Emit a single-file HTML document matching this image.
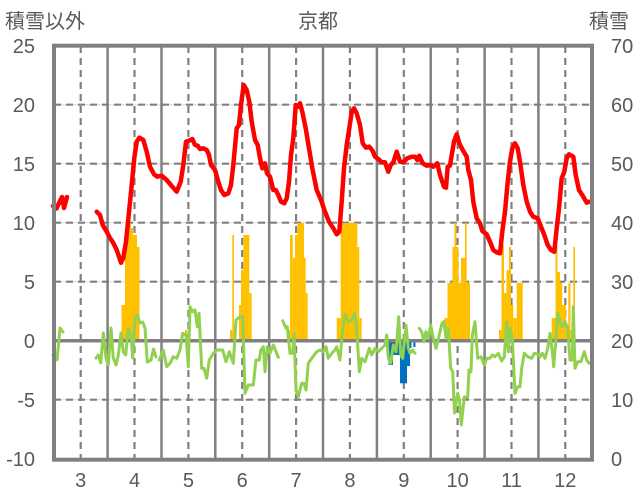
<!DOCTYPE html>
<html><head><meta charset="utf-8"><style>
html,body{margin:0;padding:0;background:#fff;}
svg{display:block;}
text{font-family:"Liberation Sans","Noto Sans CJK JP",sans-serif;fill:#595959;}
</style></head><body>
<svg width="636" height="501" viewBox="0 0 636 501" xmlns="http://www.w3.org/2000/svg">
<rect width="636" height="501" fill="#fff"/>
<g stroke="#D9D9D9" stroke-width="1">
<line x1="54" y1="104.7" x2="592" y2="104.7"/>
<line x1="54" y1="163.7" x2="592" y2="163.7"/>
<line x1="54" y1="222.7" x2="592" y2="222.7"/>
<line x1="54" y1="281.7" x2="592" y2="281.7"/>
<line x1="54" y1="399.7" x2="592" y2="399.7"/>
</g>
<g stroke="#808080" stroke-width="2.2" stroke-dasharray="7 5">
<line x1="54" y1="104.7" x2="592" y2="104.7"/>
<line x1="54" y1="163.7" x2="592" y2="163.7"/>
<line x1="54" y1="222.7" x2="592" y2="222.7"/>
<line x1="54" y1="281.7" x2="592" y2="281.7"/>
<line x1="54" y1="399.7" x2="592" y2="399.7"/>
<line x1="80.7" y1="46" x2="80.7" y2="459"/>
<line x1="134.5" y1="46" x2="134.5" y2="459"/>
<line x1="188.4" y1="46" x2="188.4" y2="459"/>
<line x1="242.2" y1="46" x2="242.2" y2="459"/>
<line x1="296.1" y1="46" x2="296.1" y2="459"/>
<line x1="349.9" y1="46" x2="349.9" y2="459"/>
<line x1="403.8" y1="46" x2="403.8" y2="459"/>
<line x1="457.6" y1="46" x2="457.6" y2="459"/>
<line x1="511.5" y1="46" x2="511.5" y2="459"/>
<line x1="565.3" y1="46" x2="565.3" y2="459"/>
</g>
<g stroke="#808080" stroke-width="2.5">
<line x1="107.6" y1="46" x2="107.6" y2="459"/>
<line x1="161.5" y1="46" x2="161.5" y2="459"/>
<line x1="215.3" y1="46" x2="215.3" y2="459"/>
<line x1="269.2" y1="46" x2="269.2" y2="459"/>
<line x1="323" y1="46" x2="323" y2="459"/>
<line x1="376.9" y1="46" x2="376.9" y2="459"/>
<line x1="430.7" y1="46" x2="430.7" y2="459"/>
<line x1="484.6" y1="46" x2="484.6" y2="459"/>
<line x1="538.4" y1="46" x2="538.4" y2="459"/>
</g>
<g fill="#FFC000">
<rect x="121.5" y="305" width="3.5" height="35.7"/>
<rect x="125" y="235" width="4" height="105.7"/>
<rect x="129" y="223" width="2" height="117.7"/>
<rect x="131" y="228" width="2" height="112.7"/>
<rect x="133" y="235" width="4" height="105.7"/>
<rect x="137" y="247" width="2.5" height="93.7"/>
<rect x="185" y="330" width="2.3" height="10.7"/>
<rect x="230" y="330" width="2.3" height="10.7"/>
<rect x="232.3" y="235" width="1.7" height="105.7"/>
<rect x="239" y="305" width="2" height="35.7"/>
<rect x="241" y="270" width="2.3" height="70.7"/>
<rect x="243.3" y="235" width="6" height="105.7"/>
<rect x="249.3" y="293" width="2.4" height="47.7"/>
<rect x="286.7" y="330" width="3.3" height="10.7"/>
<rect x="290" y="235" width="2.7" height="105.7"/>
<rect x="292.7" y="258" width="2.3" height="82.7"/>
<rect x="295" y="235" width="2.3" height="105.7"/>
<rect x="297.3" y="223" width="6.7" height="117.7"/>
<rect x="304" y="258" width="1.7" height="82.7"/>
<rect x="305.7" y="293" width="2" height="47.7"/>
<rect x="336.7" y="318" width="4" height="22.7"/>
<rect x="340.7" y="223" width="16.6" height="117.7"/>
<rect x="357.3" y="247" width="2" height="93.7"/>
<rect x="359.3" y="318" width="2.4" height="22.7"/>
<rect x="444.5" y="318" width="3" height="22.7"/>
<rect x="447.5" y="283" width="5" height="57.7"/>
<rect x="452.5" y="247" width="2" height="93.7"/>
<rect x="454.5" y="223" width="2" height="117.7"/>
<rect x="456.5" y="247" width="2" height="93.7"/>
<rect x="458.5" y="283" width="2.5" height="57.7"/>
<rect x="461" y="258" width="4" height="82.7"/>
<rect x="465" y="223" width="1.7" height="117.7"/>
<rect x="466.7" y="283" width="3.3" height="57.7"/>
<rect x="499" y="330" width="2.5" height="10.7"/>
<rect x="501.5" y="245" width="2.5" height="95.7"/>
<rect x="504" y="293" width="2.5" height="47.7"/>
<rect x="506.5" y="270" width="2.5" height="70.7"/>
<rect x="509" y="247" width="2" height="93.7"/>
<rect x="511" y="305" width="2.3" height="35.7"/>
<rect x="513.3" y="318" width="3.4" height="22.7"/>
<rect x="516.7" y="283" width="6" height="57.7"/>
<rect x="551.7" y="318" width="3.8" height="22.7"/>
<rect x="555.5" y="247" width="2" height="93.7"/>
<rect x="557.5" y="272" width="2.5" height="68.7"/>
<rect x="560" y="283" width="2.3" height="57.7"/>
<rect x="562.3" y="305" width="3.7" height="35.7"/>
<rect x="566" y="330" width="2.3" height="10.7"/>
<rect x="568.3" y="283" width="2.2" height="57.7"/>
<rect x="570.5" y="330" width="2.5" height="10.7"/>
<rect x="573.3" y="247" width="1.7" height="93.7"/>
</g>
<g fill="#0070C0">
<rect x="388.5" y="340.7" width="4.5" height="24.3"/>
<rect x="393" y="340.7" width="7" height="14.3"/>
<rect x="400" y="340.7" width="7" height="42.6"/>
<rect x="407" y="340.7" width="3" height="25.3"/>
<rect x="410" y="340.7" width="1.5" height="7.3"/>
<rect x="413.3" y="340.7" width="2.2" height="6.3"/>
</g>
<line x1="54" y1="340.7" x2="592" y2="340.7" stroke="#808080" stroke-width="3.5"/>
<g fill="none" stroke="#92D050" stroke-width="3" stroke-linejoin="round" stroke-linecap="round">
<polyline points="53,355 57,360 60,328 63,332"/>
<polyline points="96,358 98.3,355 100.7,363 103.3,333 106,358 108.3,365 111,328 113.3,358 116,365 118.3,355 121,333 123.3,352 125.7,355 128.3,328 131,335 132.7,358 135,318 137.3,315 140,323 142.7,322 145,328 147.3,362 151,360 153.5,349 156,357"/>
<polyline points="159.3,360 163.3,350 166.7,366.7 170,363.3 173.3,356.7 176.7,358.3 180,350 182.7,333.3 186,335 188.3,366.7 190,306.7 192.7,311.7 195,310 197.3,326.7 199,313.3 201.7,368.3 204,368.3 206.7,378.3 209.3,360 213.3,353.3 216.7,350 222.7,350 226,361.7 229.3,351.7 233.3,363.3 236,320 240,316.7 242.7,316.7 245,393.3 248.3,385 253.3,385 256,360 259.3,360 260.7,350 263.3,346.7 265,371.7 267.3,346.7 270,353.3 273.3,345 278.3,357.3"/>
<polyline points="282.7,320.7 286,328.3 287.3,326.7 290,353.3 292.7,353.3 294,334 296,390 298.3,396.7 301.7,383.3 304,383.3 306,390 308.3,363.3 311.7,358.3 316.7,351.7 320,350 323.3,351.7 326,346.7 328.3,358.3 331.7,353.3 335,350 336.7,346.7 340,360 342.7,328.3 345,314.3 348.3,321.7 351.7,320 355,313.3 357.3,338.3 359.3,371.7 361.7,358.3 365,361.7 369.3,348.3 371.7,355 375,348.3 378.3,351.7 381.7,348.3 385,345 386.7,335 388.3,358.3 390.7,363.3 393.3,345 396,351.7 398.7,316.7 400.7,355 402.7,358.3 406,325 408.3,348.3 410,353.3 412.7,350 415,353.3"/>
<polyline points="419.3,328.3 421.7,331.7 424,341.7 426,331.7 428.3,338.3 430.7,325 433.3,338.3 436,348.3 439.3,335 442,323.3 444,321.7 446,338.3 448.3,328.3 450.7,368.3 452.7,371.7 454.5,413 457.7,393.3 459.5,400 461.3,425 464.3,397 467.7,397 469,370 471,371.7 472.3,335 475,321.7 477.7,358.3 481,356.7 484.3,365 486.7,358.3 490,358.3 492.3,355 495,356.7 498.3,353.3 501.7,361 504.3,356.7 506.7,321.7 508.3,351.7 510,328.3 512.3,338.3 515,393.3 517.7,386.7 520,386.7 521.7,368.3 524.3,353.3 527.7,356.7 531.7,358.3 534.3,353.3 537.7,354.3 540,356.7 542.3,353.3 545,358.3 547.7,348.3 550,333.3 552.3,351.7 553.7,366.7 555.7,341.7 557.7,313.3 560,321.7 562.3,326.7 565,321.7 567.7,328.3 570,360 572.3,360 573.3,306.7 575,368.3 577.7,361.7 581,361.7 584.3,351.7 586.7,360 589,363.3"/>
</g>
<g fill="none" stroke="#FF0000" stroke-width="4.5" stroke-linejoin="round" stroke-linecap="round">
<polyline points="53,206 56.5,208.5 59,203 62,197 64,208 67,197"/>
<polyline points="96.7,211.7 100,215 102.7,225 106.7,231.7 110,238 113.3,243 116.7,250 119,256.7 121,262.7 123.3,258 126,241.7 128.7,215 131.7,185 134.3,158 136.7,141.7 139.3,137.7 143.3,140 146.7,151.7 150,166.7 154,174.3 157.3,176.7 161.7,175.7 166.7,180 171.7,186 176.7,191.7 180.7,181.7 183.3,165 186,141.7 188.3,141 192.3,139 195,145 197.7,145.7 200,149 203.3,148.3 206.7,150 209,155 211,165 215,170 218.3,181.7 221,190 224.3,195 228.3,193.3 231,185 233.3,165 236.7,128.3 239,125 241,105 243.7,85 246.7,90 249.3,101.7 251.7,121.7 255,140 257.7,145 260,158.3 262.3,168.3 265,163.3 267,173.3 270,176.7 273.3,190 275.7,190 278.3,195 281,201.7 284.3,203.3 286.7,198.3 289,181.7 291,155 293.3,138.3 295.7,105 298.3,106.7 300,103.3 302.3,111.7 305.7,128.3 309,148.3 312.3,168.3 316.7,190 321,200 325,211.7 329,221.7 333.3,228.3 336.7,234.3 339.3,231.7 341.7,201.7 344,168.3 346.7,145 349.3,128.3 351.7,111.7 354,108.3 356.7,113.3 360,125 362.7,143.3 366,147.7 369.3,146.7 372.7,151 375,156.7 378.3,159 381.7,162.3 385,162.3 388.3,171.7 390.7,165 393.3,162.3 396.7,151.7 400,161.7 403.3,162.3 407.3,158.3 411.7,156.7 415,156.7 417.3,160 419.3,155.7 422.7,163.3 426.7,165.7 430,165 433.3,166.7 437.3,163.3 440,175 444,186.7 446,187.7 447.7,166.7 450,165.7 451.7,155 454,141.7 456.7,134.3 459.3,143.3 462.7,150 466.7,156.7 468.3,170 471,180 473.3,201.7 476.7,218.3 480,223.3 482.3,231 486.7,234.3 490,241.7 493.3,250 496.7,252.3 500,253.3 502.3,231.7 505,211.7 507.7,181.7 510,161.7 512.3,148.3 515,143.3 517.7,148.3 520,161.7 523.3,185 526.7,201.7 530,211.7 533.3,216.7 537.7,218.3 541,226.7 544.3,235 547.7,245 551,250 554.3,251.7 556.7,228.3 559,208.3 561.7,178.3 564.3,171.7 566.7,158.3 569,154.3 573.3,156.7 575.7,175 579,190 583.3,196.7 586.7,202.7 589,201.7"/>
</g>
<rect x="54" y="45.7" width="538" height="414" fill="none" stroke="#808080" stroke-width="4"/>
<text x="5" y="28" font-size="20">積雪以外</text>
<text x="318" y="28" font-size="20" text-anchor="middle">京都</text>
<text x="589" y="28" font-size="20">積雪</text>
<g font-size="20" text-anchor="end">
<text x="35" y="53">25</text>
<text x="35" y="112">20</text>
<text x="35" y="171">15</text>
<text x="35" y="230">10</text>
<text x="35" y="289">5</text>
<text x="35" y="348">0</text>
<text x="35" y="407">-5</text>
<text x="35" y="466">-10</text>
</g>
<g font-size="20">
<text x="611" y="53">70</text>
<text x="611" y="112">60</text>
<text x="611" y="171">50</text>
<text x="611" y="230">40</text>
<text x="611" y="289">30</text>
<text x="611" y="348">20</text>
<text x="611" y="407">10</text>
<text x="611" y="466">0</text>
</g>
<g font-size="20" text-anchor="middle">
<text x="80.7" y="487">3</text>
<text x="134.5" y="487">4</text>
<text x="188.4" y="487">5</text>
<text x="242.2" y="487">6</text>
<text x="296.1" y="487">7</text>
<text x="349.9" y="487">8</text>
<text x="403.8" y="487">9</text>
<text x="457.6" y="487">10</text>
<text x="511.5" y="487">11</text>
<text x="565.3" y="487">12</text>
</g>
</svg>
</body></html>
